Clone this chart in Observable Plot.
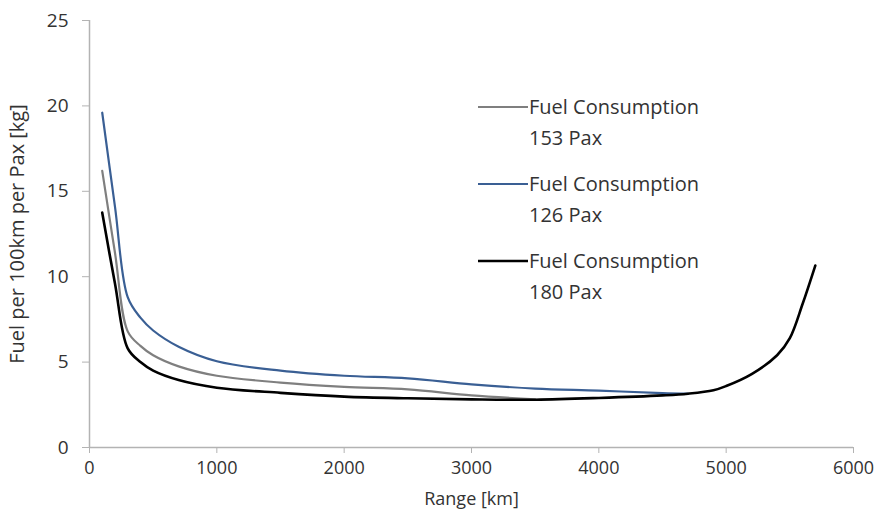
<!DOCTYPE html>
<html>
<head>
<meta charset="utf-8">
<script src="https://cdn.jsdelivr.net/npm/d3@7"></script>
<script src="https://cdn.jsdelivr.net/npm/@observablehq/plot@0.6"></script>
<style>
  html, body { margin: 0; padding: 0; background: #fff; }
  #chart { position: relative; width: 881px; height: 510px; }
</style>
</head>
<body>
<div id="chart"></div>
<script>
// ---- Data ----
const seriesNames = ["Fuel Consumption 153 Pax", "Fuel Consumption 126 Pax", "Fuel Consumption 180 Pax"];
const seriesColors = ["#7f7f7f", "#3a5f94", "#000000"];

const range153 = [100, 200, 300, 400, 500, 700, 1000, 1500, 2000, 2500, 3000, 3500];
const fuel153  = [16.2, 11.4, 6.8, 5.95, 5.4, 4.75, 4.2, 3.8, 3.55, 3.4, 3.05, 2.82];

const range126 = [100, 200, 300, 400, 500, 700, 1000, 1500, 2000, 2500, 3000, 3500, 4000, 4500, 4700];
const fuel126  = [19.6, 14.1, 8.8, 7.6, 6.85, 5.9, 5.05, 4.5, 4.2, 4.05, 3.7, 3.45, 3.33, 3.18, 3.15];

const range180 = [100, 200, 300, 400, 500, 700, 1000, 1500, 2000, 2500, 3000, 3500, 4000, 4500, 4700, 4900, 5000, 5200, 5400, 5500, 5600, 5700];
const fuel180  = [13.75, 9.6, 5.8, 5.0, 4.5, 3.95, 3.5, 3.2, 2.98, 2.88, 2.82, 2.8, 2.9, 3.05, 3.15, 3.35, 3.6, 4.3, 5.4, 6.4, 8.4, 10.65];

const xTicks = [0, 1000, 2000, 3000, 4000, 5000, 6000];
const yTicks = [0, 5, 10, 15, 20, 25];
const legendLines1 = ["Fuel Consumption", "Fuel Consumption", "Fuel Consumption"];
const legendLines2 = ["153 Pax", "126 Pax", "180 Pax"];

const toRows = (xs, ys, name) => xs.map((x, i) => ({range: x, fuel: ys[i], series: name}));
const rows153 = toRows(range153, fuel153, seriesNames[0]);
const rows126 = toRows(range126, fuel126, seriesNames[1]);
const rows180 = toRows(range180, fuel180, seriesNames[2]);

const font = "Open Sans, Lato, sans-serif";
const axisColor = "#b3b3b3";
const textColor = "#333333";

const chart = Plot.plot({
  width: 881,
  height: 510,
  marginLeft: 89,
  marginRight: 28,
  marginTop: 20,
  marginBottom: 63,
  style: {fontFamily: font, background: "#fff", overflow: "visible"},
  x: {domain: [0, 6000]},
  y: {domain: [0, 25]},
  marks: [
    Plot.ruleY([0], {stroke: axisColor, strokeWidth: 1.5}),
    Plot.ruleX([0], {stroke: axisColor, strokeWidth: 1.5}),
    Plot.axisX({
      ticks: xTicks, tickSize: 6, tickPadding: 8, stroke: axisColor, fill: textColor,
      fontSize: 18, tickFormat: d => String(d),
      label: "Range [km]", labelAnchor: "center", labelOffset: 57, labelArrow: "none"
    }),
    Plot.axisY({
      ticks: yTicks, tickSize: 7, tickPadding: 14, stroke: axisColor, fill: textColor,
      fontSize: 19, tickFormat: d => String(d),
      label: "Fuel per 100km per Pax [kg]", labelAnchor: "center", labelOffset: 80, labelArrow: "none"
    }),
    Plot.line(rows153, {x: "range", y: "fuel", stroke: seriesColors[0], strokeWidth: 2.2, curve: "catmull-rom"}),
    Plot.line(rows126, {x: "range", y: "fuel", stroke: seriesColors[1], strokeWidth: 2.2, curve: "catmull-rom"}),
    Plot.line(rows180, {x: "range", y: "fuel", stroke: seriesColors[2], strokeWidth: 2.6, curve: "catmull-rom"})
  ]
});

// axis label font sizes
d3.select(chart).selectAll("g[aria-label='y-axis label'] text")
  .attr("font-size", 20).attr("fill", textColor);
d3.select(chart).selectAll("g[aria-label='x-axis label'] text")
  .attr("font-size", 18).attr("fill", textColor);

// ---- Legend (inside plot area, right side) ----
const svg = d3.select(chart);
const lg = svg.append("g").attr("font-family", font).attr("font-size", 20)
  .attr("fill", textColor).attr("text-anchor", "start");
const legendX = 478, legendLineLen = 50, legendTop = 107, legendStep = 77, lineGap = 31;
seriesNames.forEach((name, i) => {
  const y = legendTop + i * legendStep;
  lg.append("line")
    .attr("x1", legendX).attr("x2", legendX + legendLineLen)
    .attr("y1", y).attr("y2", y)
    .attr("stroke", seriesColors[i]).attr("stroke-width", i === 2 ? 2.6 : 2.2);
  lg.append("text").attr("x", legendX + legendLineLen + 1).attr("y", y).attr("dy", "0.35em").text(legendLines1[i]);
  lg.append("text").attr("x", legendX + legendLineLen + 1).attr("y", y + lineGap).attr("dy", "0.35em").text(legendLines2[i]);
});

document.getElementById("chart").appendChild(chart);
</script>
</body>
</html>
